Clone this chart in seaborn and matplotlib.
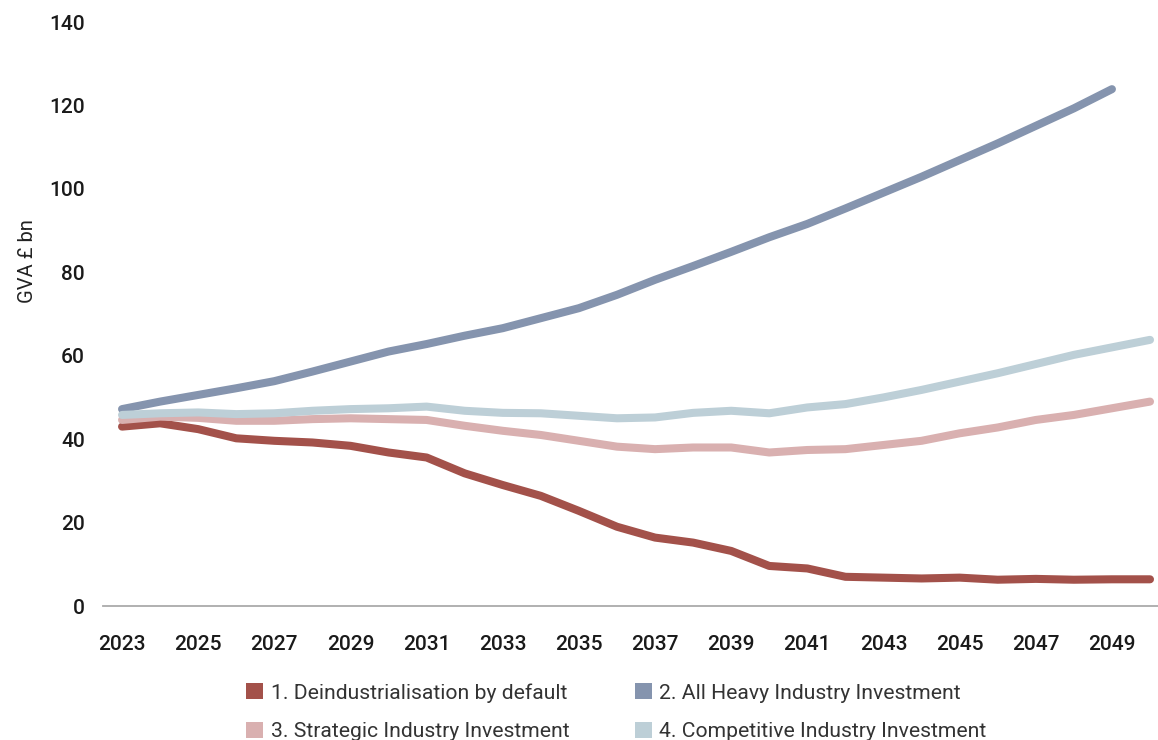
import numpy as np
import pandas as pd
import seaborn as sns
import matplotlib.pyplot as plt
from matplotlib.patches import Patch

# Gross value added by scenario, £ bn
years = list(range(2023, 2051))

deindustrialisation = [43.0, 43.8, 42.4, 40.2, 39.6, 39.2, 38.4, 36.8, 35.6, 31.8,
                       29.0, 26.4, 22.8, 19.0, 16.4, 15.2, 13.2, 9.6, 9.0, 7.0,
                       6.8, 6.6, 6.8, 6.3, 6.5, 6.3, 6.4, 6.4]

all_heavy = [47.2, 49.0, 50.6, 52.2, 53.9, 56.2, 58.6, 61.0, 62.8, 64.8,
             66.6, 69.0, 71.4, 74.6, 78.2, 81.5, 84.9, 88.4, 91.6, 95.3,
             99.1, 102.9, 106.9, 110.9, 115.1, 119.3, 123.9]  # runs to 2049

strategic = [44.6, 45.4, 45.1, 44.4, 44.4, 44.8, 45.0, 44.8, 44.6, 43.2,
             42.0, 41.0, 39.6, 38.2, 37.6, 38.0, 38.0, 36.8, 37.4, 37.6,
             38.6, 39.6, 41.4, 42.8, 44.6, 45.8, 47.4, 49.0]

competitive = [45.8, 46.2, 46.4, 46.0, 46.2, 46.8, 47.2, 47.4, 47.8, 46.8,
               46.3, 46.2, 45.6, 45.0, 45.2, 46.3, 46.8, 46.2, 47.6, 48.4,
               50.0, 51.8, 53.8, 55.8, 58.0, 60.2, 62.0, 63.8]

scenarios = ["1. Deindustrialisation by default",
             "2. All Heavy Industry Investment",
             "3. Strategic Industry Investment",
             "4. Competitive Industry Investment"]
colors = ["#A3514A", "#8594AE", "#D9B0B0", "#BDCFD7"]

series = [deindustrialisation, all_heavy, strategic, competitive]
frames = []
for name, vals in zip(scenarios, series):
    frames.append(pd.DataFrame({"year": years[:len(vals)],
                                "gva": vals,
                                "scenario": name}))
df = pd.concat(frames, ignore_index=True)

sns.set_theme(style="white")
plt.rcParams["font.family"] = ["Roboto", "DejaVu Sans"]

W, H = 1158, 740
fig = plt.figure(figsize=(W / 100, H / 100), dpi=100)
ax = fig.add_axes([103 / W, 1 - 606 / H, (W - 103) / W, (606 - 22) / H])

sns.lineplot(data=df, x="year", y="gva", hue="scenario",
             hue_order=scenarios, palette=colors, linewidth=5.8,
             solid_capstyle="round", legend=False, ax=ax)

ax.set_xlim(2022.5, 2050.21)
ax.set_ylim(0, 140)
ax.set_xticks(range(2023, 2050, 2))
ax.set_yticks(range(0, 141, 20))
ax.tick_params(axis="both", length=0, labelsize=15, colors="#1a1a1a")
ax.tick_params(axis="x", pad=21)
ax.tick_params(axis="y", pad=13)
for lbl in ax.get_xticklabels() + ax.get_yticklabels():
    lbl.set_fontweight("medium")

for side in ("left", "top", "right"):
    ax.spines[side].set_visible(False)
ax.spines["bottom"].set_color("#aaaaaa")
ax.spines["bottom"].set_linewidth(1.3)

ax.set_xlabel("")
ax.set_ylabel("GVA £ bn", fontsize=14.5, color="#222222")
ax.yaxis.set_label_coords(-0.063, 0.59)

# legend fills row by row: 1 and 2 on top, 3 and 4 below
order = [0, 2, 1, 3]
handles = [Patch(facecolor=colors[i], edgecolor="none") for i in order]
labels = [scenarios[i] for i in order]
fig.legend(handles, labels, ncol=2, loc="upper left",
           bbox_to_anchor=(246 / W, 1 - 683 / H), frameon=False,
           fontsize=15.2, labelcolor="#333333", handlelength=0.82,
           handleheight=0.82, handletextpad=0.35, columnspacing=3.1,
           labelspacing=0.9, borderpad=0, borderaxespad=0)

fig.savefig("out.png", dpi=100)
